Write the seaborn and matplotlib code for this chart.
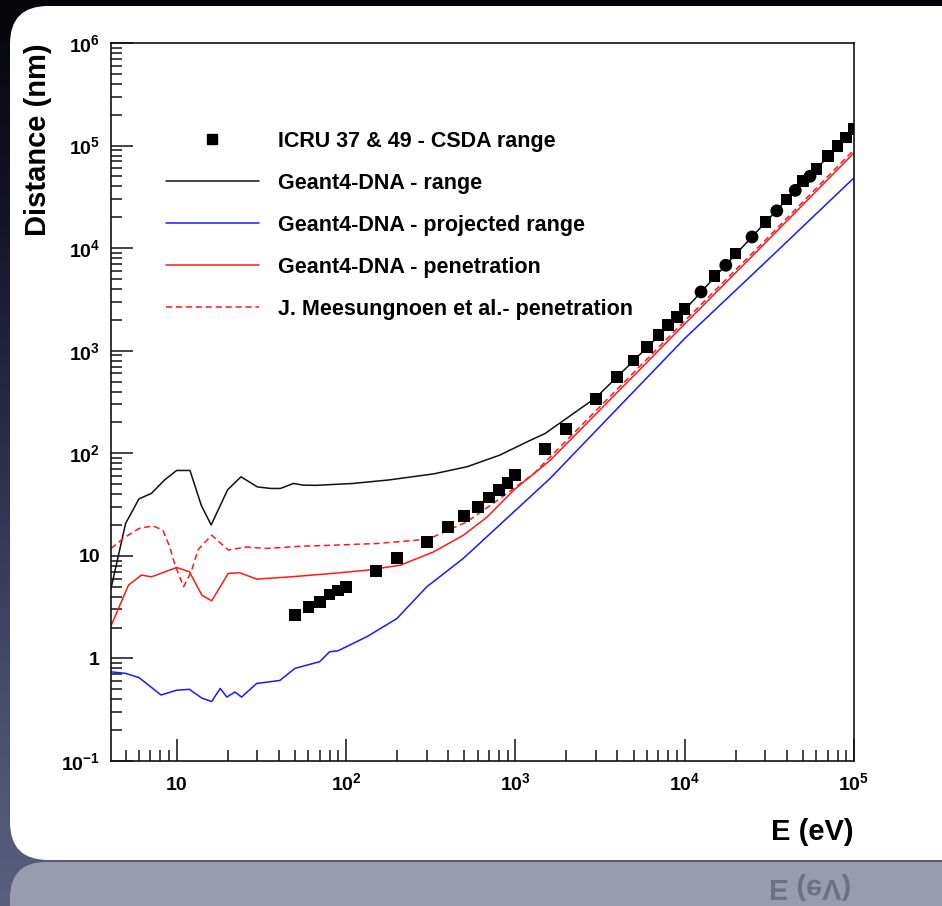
import numpy as np
import pandas as pd
import matplotlib
matplotlib.use("Agg")
import matplotlib.pyplot as plt
import seaborn as sns
from matplotlib.patches import FancyBboxPatch, PathPatch
from matplotlib.textpath import TextPath
from matplotlib.font_manager import FontProperties
from matplotlib.lines import Line2D
from matplotlib.transforms import Affine2D
from matplotlib.ticker import FixedLocator, LogLocator, NullFormatter

# ---------------- data ----------------
icru_E = [50, 60, 70, 80, 90, 100, 150, 200, 300, 400, 500, 600, 700, 800, 900,
          1000, 1500, 2000, 3000, 4000, 5000, 6000, 7000, 8000, 9000, 10000,
          15000, 20000, 30000, 40000, 50000, 60000, 70000, 80000, 90000, 100000]
icru_R = [2.64, 3.18, 3.56, 4.2, 4.6, 5.0, 7.1, 9.5, 13.7, 19.2, 24.4, 30, 37, 43.7, 51.5,
          61, 110, 173, 340, 555, 800, 1080, 1415, 1775, 2120, 2550,
          5360, 8850, 18000, 29800, 45000, 59000, 79000, 98400, 120000, 145000]
icru49_E = [12500, 17500, 25000, 35000, 45000, 55000]
icru49_R = [3740, 6810, 12850, 23100, 36600, 50200]

range_E = [4.1, 5, 6, 7.1, 8.5, 10, 12, 14, 16, 20, 24, 30, 36, 41, 49, 56, 67,
           110, 180, 330, 520, 810, 1170, 1500, 3000, 5000, 10000, 20000, 50000, 100000]
range_R = [4.8, 20.7, 36, 40.6, 55, 68, 68, 31, 20, 44, 59, 47, 45.4, 45.4, 50.8, 48.9, 48.7,
           50.8, 55, 63, 74, 96, 129, 156, 350, 800, 2500, 8700, 44000, 140000]

proj_E = [4.1, 5, 6, 8.1, 10, 11.9, 14.1, 16.1, 18.1, 19.8, 22.1, 24.2, 29.7, 40.7, 50,
          70, 80, 90, 133, 200, 300, 493, 933, 1607, 10000, 30000, 100000]
proj_R = [0.74, 0.715, 0.65, 0.44, 0.49, 0.50, 0.41, 0.38, 0.51, 0.42, 0.47, 0.42, 0.57, 0.61, 0.80,
          0.93, 1.16, 1.19, 1.63, 2.45, 4.99, 9.44, 24.9, 57, 1315, 7300, 48500]

pen_E = [4.1, 5.2, 6.2, 7.1, 10, 11.9, 14.1, 16.1, 20.2, 23.6, 29.7, 46.8, 84, 133, 209,
         328, 494, 683, 979, 1610, 5000, 10000, 30000, 100000]
pen_R = [2.08, 5.18, 6.5, 6.24, 7.7, 7.0, 4.14, 3.64, 6.75, 6.84, 5.93, 6.24, 6.75, 7.25, 8.1,
         10.9, 15.9, 24, 43.7, 85.7, 570, 1820, 11300, 85000]

mees_E = [4.1, 4.84, 6.0, 7.25, 8.3, 9.1, 9.8, 11.0, 12.2, 13.4, 16.1, 20.2, 25.9, 34, 53.5,
          84, 152, 262, 328, 516, 813, 1280, 10000, 30000, 100000]
mees_R = [11.8, 14.8, 18.5, 19.6, 17.8, 12.3, 8.1, 5.0, 7.0, 11.5, 15.9, 11.4, 12.2, 11.8, 12.4,
          12.7, 13.2, 14.2, 15.3, 21.4, 36.3, 63, 1950, 12000, 91000]

labels = ["ICRU 37 & 49 - CSDA range", "Geant4-DNA - range", "Geant4-DNA - projected range",
          "Geant4-DNA - penetration", "J. Meesungnoen et al.- penetration"]

x_ticks = [10, 100, 1000, 10000, 100000]
x_ticklabels = ["10", r"$10^{2}$", r"$10^{3}$", r"$10^{4}$", r"$10^{5}$"]
y_ticks = [0.1, 1, 10, 100, 1000, 10000, 100000, 1000000]
y_ticklabels = [r"$10^{-1}$", "1", "10", r"$10^{2}$", r"$10^{3}$", r"$10^{4}$", r"$10^{5}$", r"$10^{6}$"]

# ---------------- style ----------------
sns.set_theme(style="white")
plt.rcParams["font.family"] = ["Liberation Sans", "DejaVu Sans"]
plt.rcParams["font.weight"] = "bold"
plt.rcParams["text.color"] = "black"
plt.rcParams["axes.labelcolor"] = "black"
plt.rcParams["xtick.color"] = "black"
plt.rcParams["ytick.color"] = "black"
plt.rcParams["mathtext.fontset"] = "custom"
plt.rcParams["mathtext.rm"] = "Liberation Sans:bold"
plt.rcParams["mathtext.bf"] = "Liberation Sans:bold"
plt.rcParams["mathtext.it"] = "Liberation Sans:bold"
plt.rcParams["mathtext.default"] = "bf"

W, H = 942, 906
fig = plt.figure(figsize=(W / 100, H / 100), dpi=100)
fig.patch.set_facecolor("#0a0a14")

# background (dark gradient + white rounded panel + reflection)
bg = fig.add_axes([0, 0, 1, 1], zorder=-10)
bg.set_xlim(0, W)
bg.set_ylim(H, 0)
bg.axis("off")
grad = np.linspace(0, 1, 256)[:, None]
cmap = matplotlib.colors.LinearSegmentedColormap.from_list(
    "bgc", ["#050509", "#15152a", "#2c2e4a", "#464b6a", "#5a5f7e"])
bg.imshow(grad, aspect="auto", cmap=cmap, extent=[0, W, H, 0], zorder=0)
refl = FancyBboxPatch((10, 862), 990, 120, boxstyle="round,pad=0,rounding_size=36",
                      facecolor="#999cad", edgecolor="none", zorder=1)
bg.add_patch(refl)
panel = FancyBboxPatch((10, 6), 990, 854, boxstyle="round,pad=0,rounding_size=38",
                       facecolor="white", edgecolor="none", zorder=2)
bg.add_patch(panel)
fp = FontProperties(family="Liberation Sans", weight="bold")
tp = TextPath((0, 0), "E (eV)", size=29, prop=fp)
tpath = Affine2D().translate(769, 880).transform_path(tp)
bg.add_patch(PathPatch(tpath, facecolor="#6e7182", edgecolor="none", zorder=3))

# main axes
ax = fig.add_axes([111 / W, 1 - 761 / H, (854 - 111) / W, (761 - 43) / H], zorder=5)
ax.set_facecolor("white")

lw = 1.1
sns.lineplot(x=range_E, y=range_R, ax=ax, color="#111111", lw=lw, sort=False, estimator=None)
sns.lineplot(x=proj_E, y=proj_R, ax=ax, color="#1a1aff", lw=lw, sort=False, estimator=None)
sns.lineplot(x=pen_E, y=pen_R, ax=ax, color="#ff1a1a", lw=lw, sort=False, estimator=None)
sns.lineplot(x=mees_E, y=mees_R, ax=ax, color="#ff1a1a", lw=lw, sort=False, estimator=None,
             linestyle=(0, (4, 2.5)))
sns.scatterplot(x=icru_E, y=icru_R, ax=ax, marker="s", s=70, color="black",
                edgecolor="none", linewidth=0, zorder=4)
sns.scatterplot(x=icru49_E, y=icru49_R, ax=ax, marker="o", s=85, color="black",
                edgecolor="none", linewidth=0, zorder=4)

ax.set_xscale("log")
ax.set_yscale("log")
ax.set_xlim(4.1, 1e5)
ax.set_ylim(0.1, 1e6)

ax.xaxis.set_major_locator(FixedLocator(x_ticks))
ax.xaxis.set_minor_locator(LogLocator(base=10, subs=np.arange(2, 10), numticks=20))
ax.xaxis.set_minor_formatter(NullFormatter())
ax.yaxis.set_major_locator(FixedLocator(y_ticks))
ax.yaxis.set_minor_locator(LogLocator(base=10, subs=np.arange(2, 10), numticks=20))
ax.yaxis.set_minor_formatter(NullFormatter())
ax.set_xticklabels(x_ticklabels)
ax.set_yticklabels(y_ticklabels)

ax.tick_params(which="major", direction="in", length=15.5, width=1.1, color="#111111",
               labelsize=14, labelcolor="black", bottom=True, left=True, top=False, right=False)
ax.tick_params(which="minor", direction="in", length=7.8, width=1.1, color="#111111",
               bottom=True, left=True, top=False, right=False)
ax.tick_params(axis="x", which="major", pad=21)
ax.tick_params(axis="y", which="major", pad=8)
for lab in ax.get_xticklabels():
    lab.set_verticalalignment("baseline")
    lab.set_fontweight("bold")
for lab in ax.get_yticklabels():
    lab.set_fontweight("bold")

for sp in ax.spines.values():
    sp.set_color("#111111")
    sp.set_linewidth(1.2)
    sp.set_visible(True)

ax.set_xlabel("E (eV)", fontsize=21, fontweight="bold", loc="right", color="black")
ax.set_ylabel("Distance (nm)", fontsize=21, fontweight="bold", loc="top", color="black")
ax.xaxis.set_label_coords(1.0, -0.0794)
ax.yaxis.set_label_coords(-0.0794, 1.0)
ax.xaxis.label.set_verticalalignment("top")
ax.yaxis.label.set_verticalalignment("bottom")

handles = [
    Line2D([], [], marker="s", color="black", linestyle="none", markersize=7.5),
    Line2D([], [], color="#111111", lw=lw),
    Line2D([], [], color="#1a1aff", lw=lw),
    Line2D([], [], color="#ff1a1a", lw=lw),
    Line2D([], [], color="#ff1a1a", lw=lw, linestyle=(0, (4, 2.5))),
]
leg = ax.legend(handles, labels, loc="upper left", bbox_to_anchor=(0.074, 0.878),
                frameon=False, fontsize=15.5, handlelength=4.3, handletextpad=0.9,
                labelspacing=0.98, borderaxespad=0, borderpad=0)
for t in leg.get_texts():
    t.set_fontweight("bold")
    t.set_color("black")

fig.savefig("out.png", dpi=100, facecolor=fig.get_facecolor())
